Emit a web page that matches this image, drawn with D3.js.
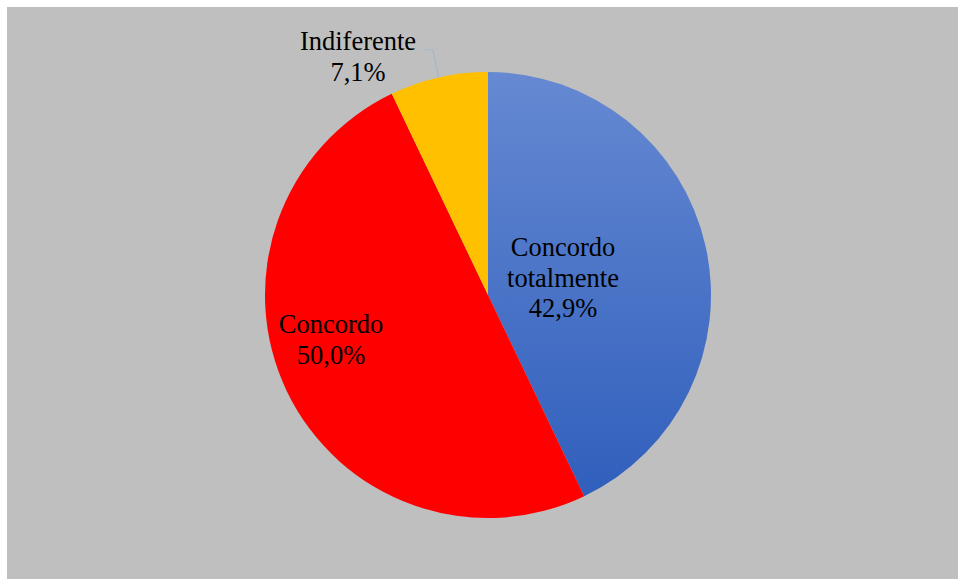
<!DOCTYPE html>
<html>
<head>
<meta charset="utf-8">
<script src="https://cdn.jsdelivr.net/npm/d3@7"></script>
<style>
  html, body { margin: 0; padding: 0; background: #ffffff; }
  svg { display: block; }
</style>
</head>
<body>
<svg id="chart" width="958" height="581"></svg>
<script>
const categories = ["Concordo totalmente", "Concordo", "Indiferente"];
const values = [42.9, 50.0, 7.1];
const valueLabels = ["42,9%", "50,0%", "7,1%"];
const labelLines = [["Concordo", "totalmente"], ["Concordo"], ["Indiferente"]];

const W = 958, H = 581;
const svg = d3.select("#chart");

// background panel
svg.append("rect")
  .attr("x", 7).attr("y", 7)
  .attr("width", W - 7).attr("height", H - 9)
  .attr("fill", "#bfbfbf");

const cx = 488, cy = 295, R = 223;

const defs = svg.append("defs");
const grad = defs.append("linearGradient")
  .attr("id", "blueGrad")
  .attr("gradientUnits", "userSpaceOnUse")
  .attr("x1", 0).attr("y1", -R).attr("x2", 0).attr("y2", R);
grad.append("stop").attr("offset", "0%").attr("stop-color", "#6689d2");
grad.append("stop").attr("offset", "100%").attr("stop-color", "#2d5dbb");

const fills = ["url(#blueGrad)", "#ff0000", "#ffc000"];

const pie = d3.pie().sort(null).value(d => d.v);
const arc = d3.arc().innerRadius(0).outerRadius(R);

const data = categories.map((c, i) => ({ c, v: values[i], i }));
const arcs = pie(data);

const g = svg.append("g").attr("transform", `translate(${cx},${cy})`);

g.selectAll("path.slice")
  .data(arcs)
  .enter().append("path")
  .attr("class", "slice")
  .attr("d", arc)
  .attr("fill", (d, i) => fills[i]);

// label layout (relative to pie centre): centre x and first baseline y
const labelPos = [
  { x: 75, y: -39 },
  { x: -157, y: 38 },
  { x: -130, y: -245 }
];
const lineH = 30.5;

arcs.forEach((a, i) => {
  const lines = labelLines[i].concat([valueLabels[i]]);
  const t = g.append("text")
    .attr("text-anchor", "middle")
    .style("font-family", "'Liberation Serif', 'Times New Roman', serif")
    .attr("font-size", 26.5)
    .attr("fill", "#000");
  lines.forEach((ln, k) => {
    t.append("tspan")
      .attr("x", labelPos[i].x)
      .attr("y", labelPos[i].y + k * lineH)
      .text(ln);
  });
});

// leader line for the small slice
const small = arcs[2];
const edgeAngle = (small.startAngle + small.endAngle) / 2;
const ex = Math.sin(edgeAngle) * R, ey = -Math.cos(edgeAngle) * R;
g.append("polyline")
  .attr("points", [[-65, -245], [-55, -245], [ex, ey]].map(p => p.join(",")).join(" "))
  .attr("fill", "none")
  .attr("stroke", "#a5b6c9")
  .attr("stroke-width", 1.2);
</script>
</body>
</html>
